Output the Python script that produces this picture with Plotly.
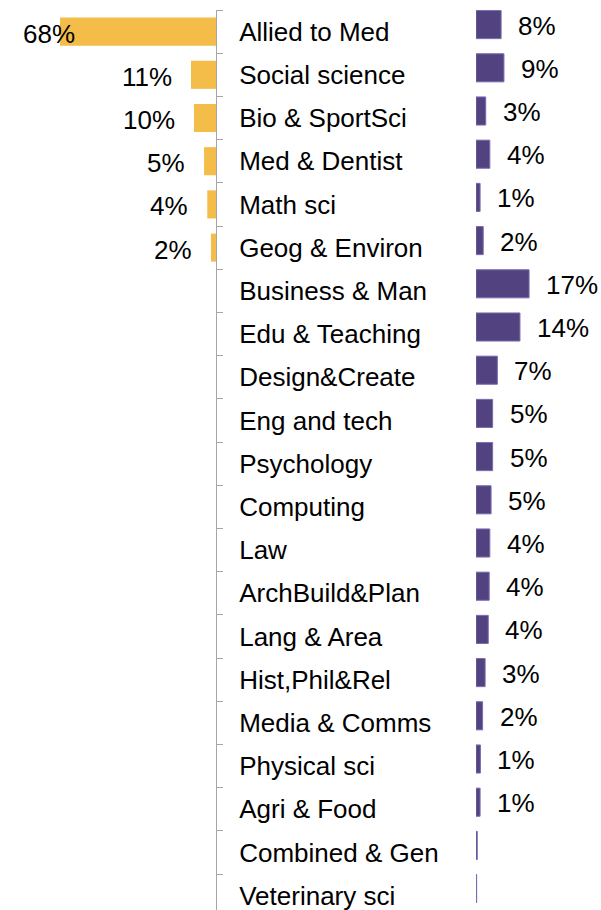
import plotly.graph_objects as go

categories = ["Allied to Med", "Social science", "Bio & SportSci", "Med & Dentist", "Math sci",
              "Geog & Environ", "Business & Man", "Edu & Teaching", "Design&Create", "Eng and tech",
              "Psychology", "Computing", "Law", "ArchBuild&Plan", "Lang & Area", "Hist,Phil&Rel",
              "Media & Comms", "Physical sci", "Agri & Food", "Combined & Gen", "Veterinary sci"]

orange_values = [68, 10.9, 9.6, 5.2, 3.8, 2.2] + [None] * 15
purple_values = [8.0, 8.9, 3.1, 4.4, 1.3, 2.3, 16.9, 14.0, 6.8, 5.3, 5.3, 4.8, 4.4, 4.2,
                 3.9, 2.9, 2.1, 1.4, 1.3, 0.4, 0.2]

ORANGE = "#F4BC48"
PURPLE = "#524380"
PURPLE_EDGE = "#7B6BAE"
FONT = "Liberation Sans, Arial, sans-serif"
FS = 26

W, H = 601, 910
orange_range_max = 216 / 2.294
purple_range_max = 125 / 3.14
ncat = len(categories)
y_range = [-0.5 + 900 / 43.2, -0.5]

fig = go.Figure()
fig.add_trace(go.Bar(orientation="h", y=categories, x=orange_values, xaxis="x", yaxis="y",
                     marker=dict(color=ORANGE, line=dict(width=0)), hoverinfo="skip"))
fig.add_trace(go.Bar(orientation="h", y=categories, x=purple_values, xaxis="x2", yaxis="y2",
                     marker=dict(color=PURPLE, line=dict(color=PURPLE_EDGE, width=1)), hoverinfo="skip"))

annotations = []
for c, v in zip(categories, orange_values):
    if v is None:
        continue
    label = f"{round(v)}%"
    if v > 55:
        annotations.append(dict(x=orange_range_max, y=c, xref="x", yref="y", text=label,
                                showarrow=False, xanchor="left", xshift=21, yshift=-2,
                                font=dict(family=FONT, size=FS, color="black")))
    else:
        annotations.append(dict(x=v, y=c, xref="x", yref="y", text=label, showarrow=False,
                                xanchor="right", xshift=-17, yshift=-2,
                                font=dict(family=FONT, size=FS, color="black")))
for c, v in zip(categories, purple_values):
    if v < 0.5:
        continue
    annotations.append(dict(x=v, y=c, xref="x2", yref="y2", text=f"{round(v)}%", showarrow=False,
                            xanchor="left", xshift=15, yshift=-1,
                            font=dict(family=FONT, size=FS, color="black")))

fig.update_layout(
    width=W, height=H, margin=dict(l=0, r=0, t=0, b=0),
    paper_bgcolor="white", plot_bgcolor="white", showlegend=False,
    bargap=0.35,
    font=dict(family=FONT, size=FS, color="black"),
    xaxis=dict(domain=[0, 216 / W], range=[orange_range_max, 0], visible=False, fixedrange=True),
    yaxis=dict(domain=[0, 900 / H], type="category", categoryorder="array", categoryarray=categories,
               range=y_range, anchor="x", side="right", showline=True, linecolor="#A6A6A6", linewidth=1,
               ticks="outside", tickson="boundaries", ticklen=6, tickcolor="#A6A6A6", showgrid=False,
               zeroline=False, ticklabelstandoff=17,
               tickfont=dict(family=FONT, size=FS, color="black")),
    xaxis2=dict(domain=[476 / W, 1], range=[0, purple_range_max], visible=False, anchor="y2"),
    yaxis2=dict(domain=[7 / H, 907 / H], type="category", categoryorder="array", categoryarray=categories,
                range=y_range, anchor="x2", visible=False),
    annotations=annotations,
)

fig.write_html("out.html", config={"displayModeBar": False},
               post_script="document.body.style.margin='0px';")
